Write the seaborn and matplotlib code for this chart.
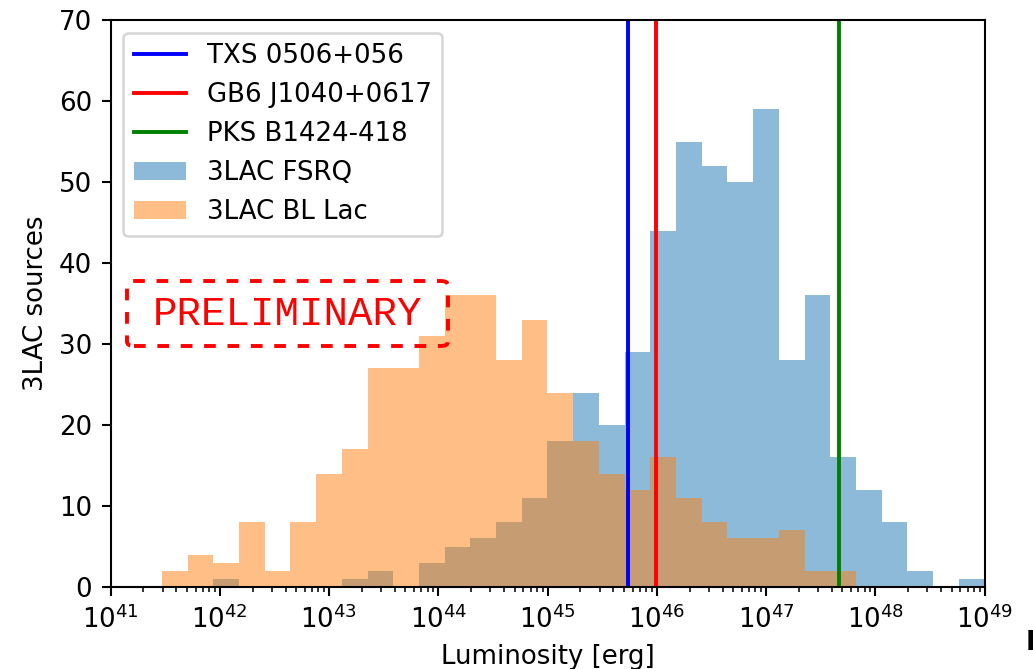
import numpy as np
import pandas as pd
import matplotlib
matplotlib.use("Agg")
import matplotlib.pyplot as plt
from matplotlib.patches import Patch, FancyBboxPatch
import seaborn as sns

# ---- data ----
bin_lo_exp = 41.47          # log10 of first bin edge
bin_hi_exp = 49.0           # log10 of last bin edge
n_bins = 32

fsrq_counts = [0, 0, 1, 0, 0, 0, 0, 1, 2, 0, 3, 5, 6, 8, 11, 18,
               24, 20, 29, 44, 55, 52, 50, 59, 28, 36, 16, 12, 8, 2, 0, 1]
bllac_counts = [2, 4, 3, 8, 2, 8, 14, 17, 27, 27, 31, 36, 36, 28, 33, 24,
                18, 14, 12, 16, 11, 8, 6, 6, 7, 2, 2, 0, 0, 0, 0, 0]

source_names = ["TXS 0506+056", "GB6 J1040+0617", "PKS B1424-418"]
source_lum = [5.45e45, 9.9e45, 4.64e47]
source_colors = ["blue", "red", "green"]

hist_labels = ["3LAC FSRQ", "3LAC BL Lac"]
xtick_exps = [41, 42, 43, 44, 45, 46, 47, 48, 49]
yticks = [0, 10, 20, 30, 40, 50, 60, 70]

# ---- figure ----
DPI = 187
W, H = 1033, 669
fig = plt.figure(figsize=(W / DPI, H / DPI), dpi=DPI)
ax_l, ax_b, ax_w, ax_h = 110.5, 587, 874, 567   # axes box in pixels
ax = fig.add_axes([ax_l / W, 1 - ax_b / H, ax_w / W, ax_h / H])

edges = list(np.logspace(bin_lo_exp, bin_hi_exp, n_bins + 1))
centers = np.sqrt(np.array(edges[:-1]) * np.array(edges[1:]))

df_fsrq = pd.DataFrame({"lum": centers, "n": np.asarray(fsrq_counts, float)})
df_bll = pd.DataFrame({"lum": centers, "n": np.asarray(bllac_counts, float)})

sns.histplot(data=df_fsrq, x="lum", weights="n", bins=edges, color="C0",
             alpha=0.5, edgecolor="none", linewidth=0, ax=ax)
sns.histplot(data=df_bll, x="lum", weights="n", bins=edges, color="C1",
             alpha=0.5, edgecolor="none", linewidth=0, ax=ax)

line_handles = []
for name, lum, col in zip(source_names, source_lum, source_colors):
    h = ax.axvline(lum, color=col, lw=1.5, label=name)
    line_handles.append(h)

ax.set_xscale("log")
ax.set_xlim(10.0 ** xtick_exps[0], 10.0 ** xtick_exps[-1])
ax.set_ylim(0, 70)
ax.set_xticks([10.0 ** e for e in xtick_exps])
ax.set_yticks(yticks)
ax.set_xlabel("Luminosity [erg]")
ax.set_ylabel("3LAC sources")

patch_handles = [Patch(facecolor="C0", alpha=0.5, label=hist_labels[0]),
                 Patch(facecolor="C1", alpha=0.5, label=hist_labels[1])]
ax.legend(handles=line_handles + patch_handles, loc="upper left")

# PRELIMINARY stamp: dashed red box (pixel geometry -> axes fraction)
bx0, bx1, by0, by1 = 127, 448, 281, 346
box = FancyBboxPatch(((bx0 - ax_l) / ax_w, (ax_b - by1) / ax_h),
                     (bx1 - bx0) / ax_w, (by1 - by0) / ax_h,
                     boxstyle="round,pad=0,rounding_size=0.008",
                     transform=ax.transAxes, fc="none", ec="red",
                     lw=1.5, ls=(0, (3, 3)), zorder=5)
ax.add_patch(box)
ax.text((288 - ax_l) / ax_w, (ax_b - 325) / ax_h, "PRELIMINARY",
        transform=ax.transAxes, ha="center", va="baseline", color="red",
        fontsize=15.7, family="Liberation Mono",
        zorder=6)

fig.text(1026 / W, 1 - 643 / H, "F", fontweight="bold",
         ha="left", va="center", fontsize=10)

fig.savefig("out.png", dpi=DPI)
